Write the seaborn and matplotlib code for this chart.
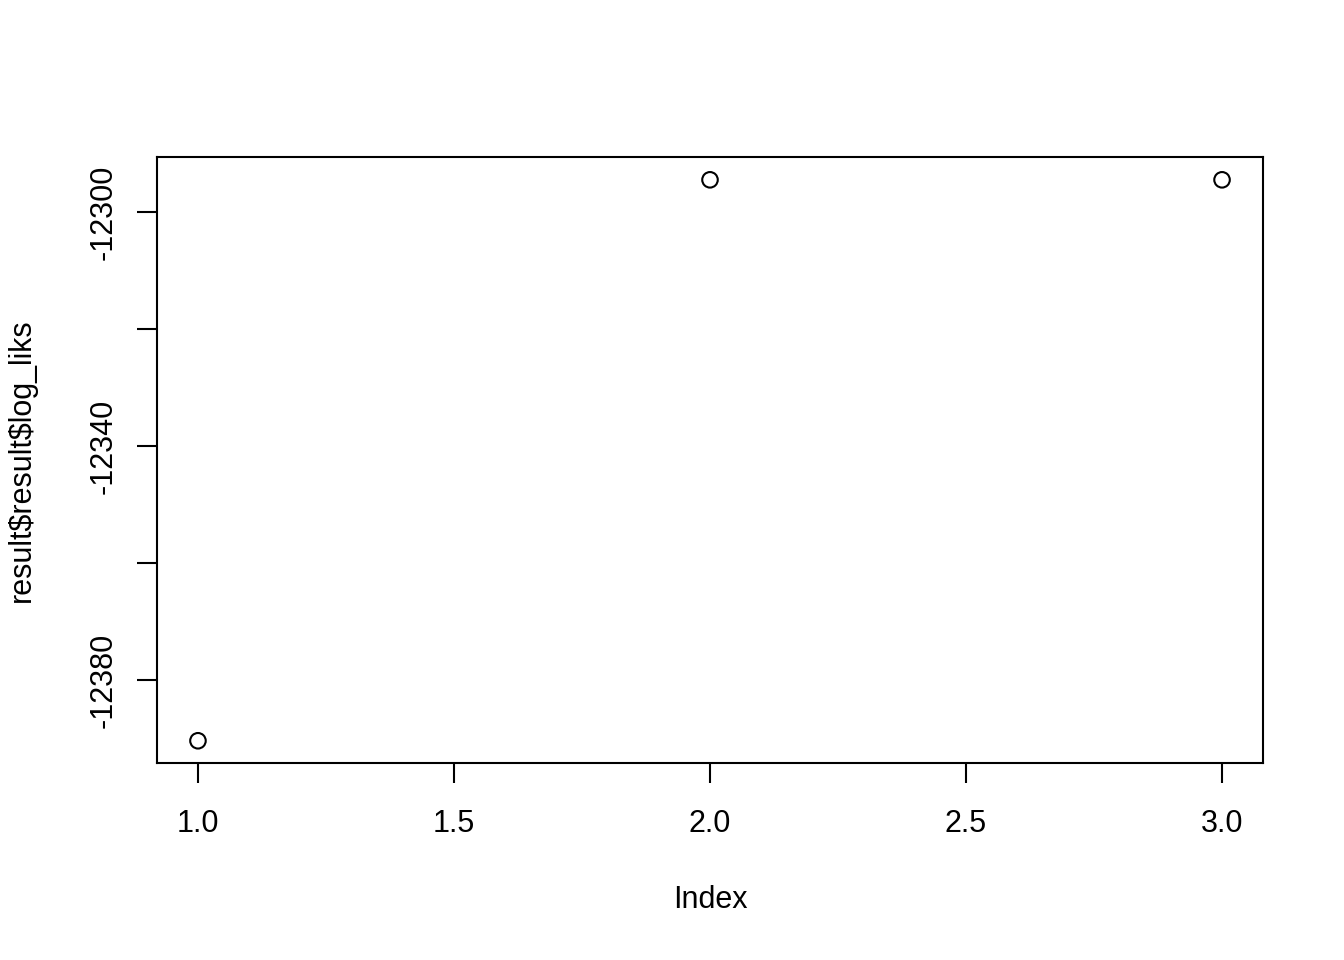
import numpy as np
import pandas as pd
import matplotlib
matplotlib.use('Agg')
import matplotlib.pyplot as plt
import seaborn as sns

# Dữ liệu
index = [1, 2, 3]
log_liks = [-12390.4, -12294.5, -12294.5]

df = pd.DataFrame({'Index': index, 'log_liks': log_liks})

sns.set_style('white')
plt.rcParams['font.family'] = ['Liberation Sans', 'DejaVu Sans']
plt.rcParams['text.color'] = 'black'
plt.rcParams['axes.labelcolor'] = 'black'

fig = plt.figure(figsize=(13.44, 9.6), dpi=100)
ax = fig.add_axes([157 / 1344, 1 - 763 / 960, 1106 / 1344, 606 / 960])

sns.scatterplot(data=df, x='Index', y='log_liks', ax=ax, marker='o', s=125,
                facecolor='none', edgecolor='black', linewidth=1.5)

ax.set_xlim(0.92, 3.08)
ax.set_ylim(-12394.2, -12290.6)
ax.set_xticks([1.0, 1.5, 2.0, 2.5, 3.0])
ax.set_xticklabels(['1.0', '1.5', '2.0', '2.5', '3.0'])
ax.set_yticks([-12380, -12360, -12340, -12320, -12300])
ax.set_yticklabels(['-12380', '', '-12340', '', '-12300'], rotation=90, va='center')

for s in ax.spines.values():
    s.set_visible(True)
    s.set_color('black')
    s.set_linewidth(1.5)

ax.tick_params(axis='both', direction='out', length=14.4, width=1.5, colors='black',
               labelsize=22, left=True, bottom=True)
ax.tick_params(axis='x', pad=19)
ax.tick_params(axis='y', pad=13)

ax.set_xlabel('Index', fontsize=22, va='center', color='black')
ax.set_ylabel(r'result\$result\$log_liks', fontsize=22, va='center', color='black')
ax.xaxis.set_label_coords(0.5, (763 - 900) / 606)
ax.yaxis.set_label_coords((22 - 157) / 1106, 0.5)
ax.grid(False)

fig.savefig('out.png', dpi=100)
